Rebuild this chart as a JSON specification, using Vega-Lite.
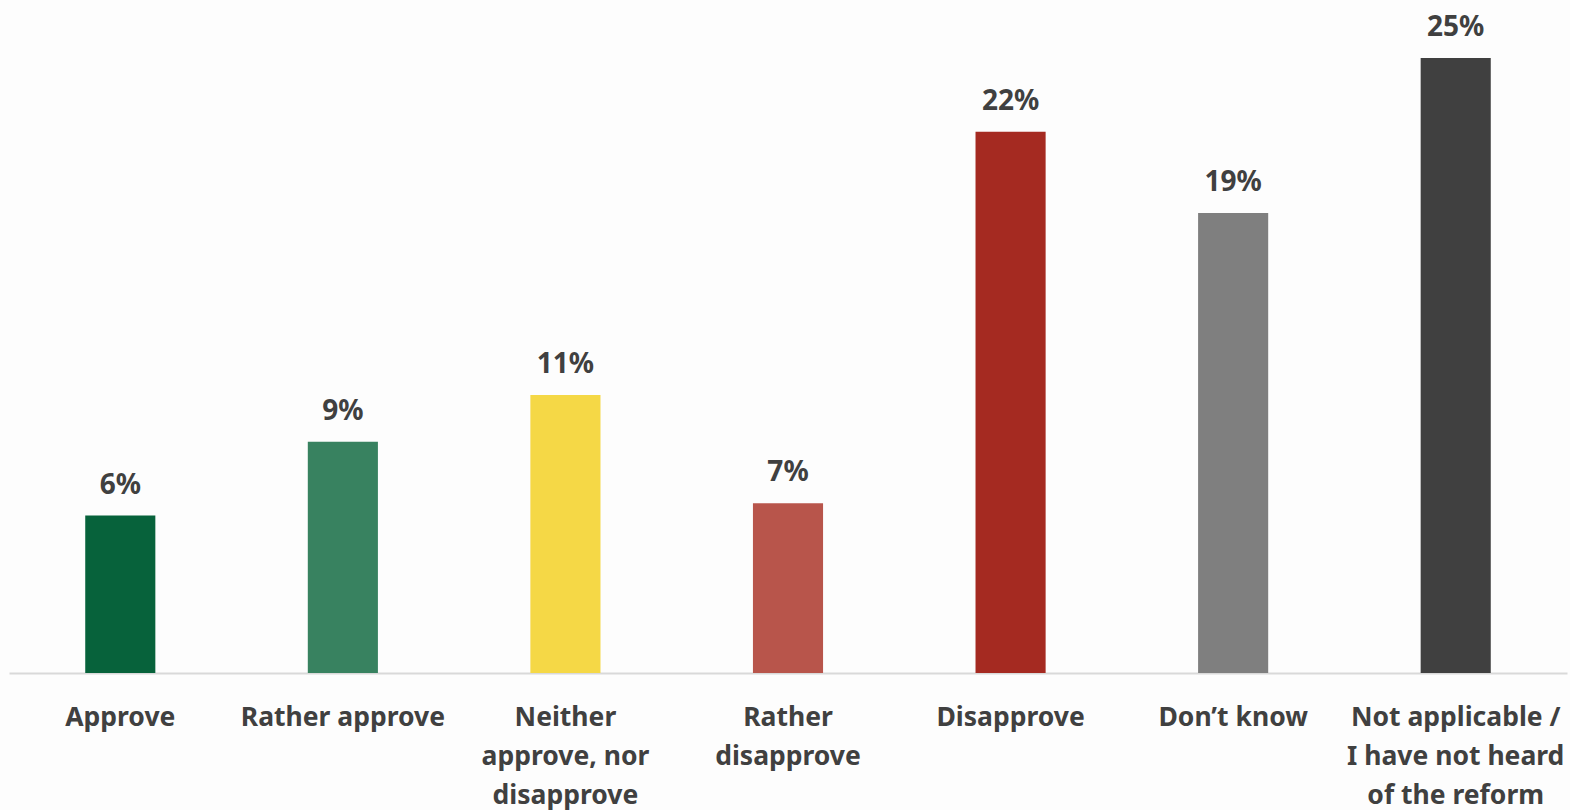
{
  "$schema": "https://vega.github.io/schema/vega-lite/v6.json",
  "autosize": {"type": "none"},
  "width": 1558,
  "height": 615,
  "padding": {"left": 9, "top": 58, "right": 3, "bottom": 137},
  "background": "#fdfdfd",
  "config": {"view": {"stroke": null}, "font": "Noto Sans"},
  "data": {"values": [
    {"category": "Approve", "share": 0.064, "color": "#07623B"},
    {"category": "Rather approve", "share": 0.094, "color": "#388260"},
    {"category": "Neither approve, nor disapprove", "share": 0.113, "color": "#F5D846"},
    {"category": "Rather disapprove", "share": 0.069, "color": "#B8554B"},
    {"category": "Disapprove", "share": 0.220, "color": "#A52A21"},
    {"category": "Don’t know", "share": 0.187, "color": "#7F7F7F"},
    {"category": "Not applicable / I have not heard of the reform", "share": 0.250, "color": "#404040"}
  ]},
  "encoding": {
    "x": {
      "field": "category", "type": "nominal", "sort": null,
      "scale": {"paddingInner": 0.685, "paddingOuter": 0.3425},
      "axis": {
        "title": null, "labelAngle": 0, "ticks": false,
        "domainColor": "#d9d9d9", "domainWidth": 2,
        "labelFont": "Noto Sans", "labelFontWeight": "bold", "labelFontSize": 26.5,
        "labelColor": "#404040", "labelPadding": 31, "labelLineHeight": 39,
        "labelBaseline": "top", "labelLimit": 300,
        "labelExpr": "datum.value == 'Neither approve, nor disapprove' ? ['Neither', 'approve, nor', 'disapprove'] : datum.value == 'Rather disapprove' ? ['Rather', 'disapprove'] : datum.value == 'Not applicable / I have not heard of the reform' ? ['Not applicable /', 'I have not heard', 'of the reform'] : datum.value"
      }
    },
    "y": {
      "field": "share", "type": "quantitative",
      "scale": {"domain": [0, 0.25], "nice": false},
      "axis": null
    }
  },
  "layer": [
    {"mark": {"type": "bar"}, "encoding": {"color": {"field": "color", "type": "nominal", "scale": null}}},
    {"mark": {"type": "text", "dy": -22, "fontSize": 28, "fontWeight": "bold", "color": "#404040", "baseline": "alphabetic", "font": "Noto Sans"},
     "encoding": {"text": {"field": "share", "type": "quantitative", "format": ".0%"}}}
  ]
}
